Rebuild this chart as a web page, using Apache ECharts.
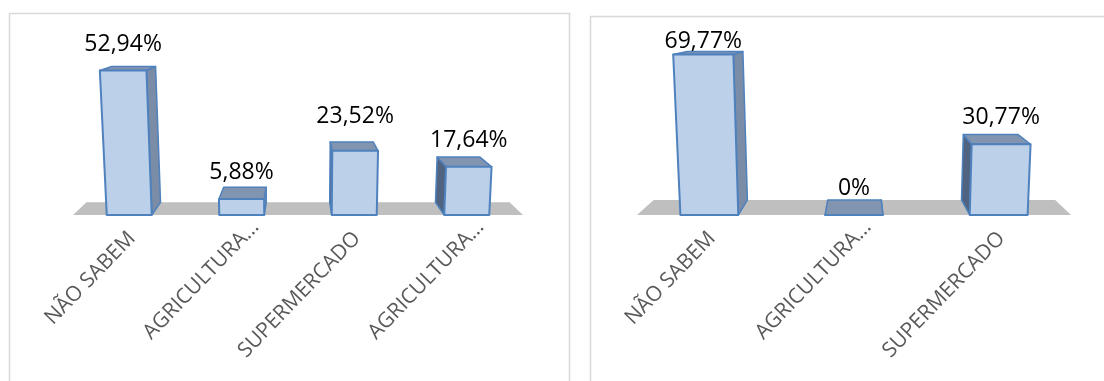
<!DOCTYPE html>
<html>
<head>
<meta charset="utf-8">
<script src="https://cdn.jsdelivr.net/npm/echarts@6/dist/echarts.min.js"></script>
<style>
  html, body { margin: 0; padding: 0; background: #ffffff; }
  #chart { width: 1104px; height: 381px; }
</style>
</head>
<body>
<div id="chart"></div>
<script>
// Where the fruit comes from — two answer groups, shares in percent.
const categoriesA = ['NÃO SABEM', 'AGRICULTURA...', 'SUPERMERCADO', 'AGRICULTURA...'];
const valuesA = [52.94, 5.88, 23.52, 17.64];

const categoriesB = ['NÃO SABEM', 'AGRICULTURA...', 'SUPERMERCADO'];
const valuesB = [69.77, 0, 30.77];

// Look of the pseudo-3D columns
const FRONT = '#bcd0ea';
const EDGE = '#4f81bd';
const TOP = '#8194b0';
const SIDE_RIGHT = '#7b8ca6';
const SIDE_LEFT = '#506482';
const FLOOR = '#bfbfbf';
const LABEL_FONT = '"Open Sans", "Liberation Sans", sans-serif';

function fmtPct(v) {
  return v === 0 ? '0%' : v.toFixed(2).replace('.', ',') + '%';
}

// Perspective: one vanishing point above the middle of the plot, slight
// outward lean of the verticals, and a fixed depth factor toward that point.
function makeView(cfg) {
  return function (cs, yBase) {
    const vx = cs.x + cs.width / 2 + cfg.vxShift;
    const vy = yBase - cfg.vyDist;
    return {
      vx: vx,
      lean: function (x, y) { return [vx + (x - vx) * (1 + cfg.shear * (yBase - y)), y]; },
      back: function (p) { return [p[0] + cfg.depth * (vx - p[0]), p[1] + cfg.depth * (vy - p[1])]; }
    };
  };
}

function floorRenderer(view) {
  return function (params, api) {
    const cs = params.coordSys;
    const yB = api.coord([0, 0])[1];
    const v = view(cs, yB);
    const L = [cs.x, yB], R = [cs.x + cs.width, yB];
    return {
      type: 'polygon',
      shape: { points: [L, R, v.back(R), v.back(L)] },
      style: { fill: FLOOR }
    };
  };
}

function boxRenderer(view, nudges) {
  return function (params, api) {
    const cs = params.coordSys;
    const i = api.value(0), val = api.value(1);
    const base = api.coord([i, 0]);
    const top = api.coord([i, val]);
    const bw = api.size([1, 0])[0] * 0.4;
    const yB = base[1];
    const v = view(cs, yB);
    const A = v.lean(base[0] - bw / 2, top[1]);
    const B = v.lean(base[0] + bw / 2, top[1]);
    const C = v.lean(base[0] + bw / 2, yB);
    const D = v.lean(base[0] - bw / 2, yB);
    const A2 = v.back(A), B2 = v.back(B), C2 = v.back(C), D2 = v.back(D);
    const showRight = base[0] < v.vx;
    const side = showRight ? [B, C, C2, B2] : [A, D, D2, A2];
    const labelY = top[1] - 26.5 + (nudges[i] || 0);
    return {
      type: 'group',
      children: [
        { type: 'polygon', shape: { points: side },
          style: { fill: showRight ? SIDE_RIGHT : SIDE_LEFT, stroke: EDGE, lineWidth: 1.5, lineJoin: 'round' } },
        { type: 'polygon', shape: { points: [A, B, B2, A2] },
          style: { fill: TOP, stroke: EDGE, lineWidth: 1.5, lineJoin: 'round' } },
        { type: 'polygon', shape: { points: [A, B, C, D] },
          style: { fill: FRONT, stroke: EDGE, lineWidth: 2, lineJoin: 'round' } },
        { type: 'text',
          style: { text: fmtPct(val), x: (A[0] + B[0]) / 2, y: labelY,
                   align: 'center', verticalAlign: 'middle',
                   font: '23px ' + LABEL_FONT, fill: '#000000' } }
      ]
    };
  };
}

function axisData(cats) {
  // truncated names are pushed a bit further along their slant
  return cats.map(function (c) {
    return /\.\.\.$/.test(c) ? { value: c, textStyle: { padding: [0, -20, 10, 0] } } : c;
  });
}

function xAxisFor(gridIndex, cats) {
  return {
    type: 'category', gridIndex: gridIndex, data: axisData(cats),
    axisLine: { show: false }, axisTick: { show: false }, splitLine: { show: false },
    axisLabel: {
      rotate: 46, interval: 0, margin: 23, padding: [0, -4, 0, 0],
      color: '#595959', fontFamily: LABEL_FONT, fontSize: 21
    }
  };
}

function yAxisFor(gridIndex, max) {
  return { type: 'value', gridIndex: gridIndex, min: 0, max: max, show: false };
}

const viewA = makeView({ vxShift: 0, vyDist: 211, depth: 0.06, shear: 0.00025 });
const viewB = makeView({ vxShift: 6, vyDist: 201, depth: 0.075, shear: 0.00025 });

const chart = echarts.init(document.getElementById('chart'), null, { renderer: 'canvas' });
chart.setOption({
  animation: false,
  backgroundColor: '#ffffff',
  graphic: [
    { type: 'rect', shape: { x: 9.5, y: 13.5, width: 560, height: 400 },
      style: { fill: 'none', stroke: '#d9d9d9', lineWidth: 1.5 }, z: -10 },
    { type: 'rect', shape: { x: 590.5, y: 16.5, width: 560, height: 400 },
      style: { fill: 'none', stroke: '#d9d9d9', lineWidth: 1.5 }, z: -10 }
  ],
  grid: [
    { left: 73, top: 51.2, width: 450, height: 163.8 },
    { left: 637, top: 31, width: 434, height: 184 }
  ],
  xAxis: [xAxisFor(0, categoriesA), xAxisFor(1, categoriesB)],
  yAxis: [yAxisFor(0, 60), yAxisFor(1, 80)],
  series: [
    { type: 'custom', xAxisIndex: 0, yAxisIndex: 0, z: 1, silent: true,
      renderItem: floorRenderer(viewA), data: [[0, 0]] },
    { type: 'custom', xAxisIndex: 0, yAxisIndex: 0, z: 2, clip: false,
      renderItem: boxRenderer(viewA, { 2: -8 }),
      data: valuesA.map(function (v, i) { return [i, v]; }) },
    { type: 'custom', xAxisIndex: 1, yAxisIndex: 1, z: 1, silent: true,
      renderItem: floorRenderer(viewB), data: [[0, 0]] },
    { type: 'custom', xAxisIndex: 1, yAxisIndex: 1, z: 2, clip: false,
      renderItem: boxRenderer(viewB, { 0: 13.5 }),
      data: valuesB.map(function (v, i) { return [i, v]; }) }
  ]
});
</script>
</body>
</html>
